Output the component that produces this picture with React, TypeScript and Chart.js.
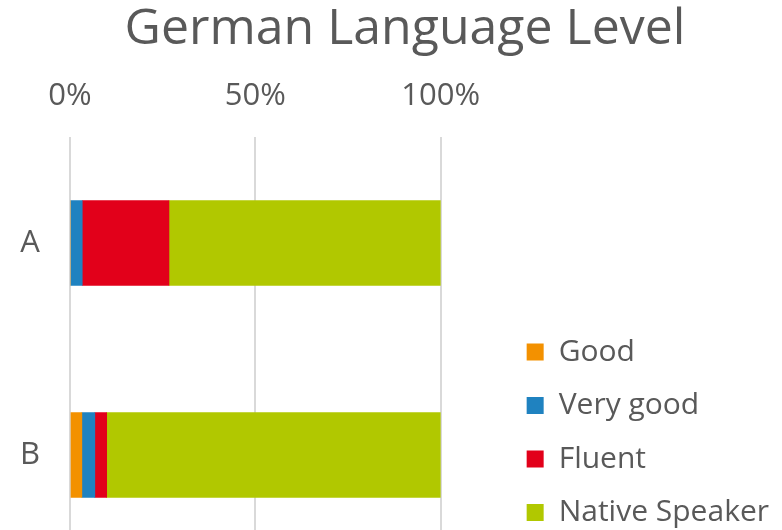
import React, { useEffect, useRef } from "react";
import { Chart, registerables } from "chart.js";

Chart.register(...registerables);

const categories = ["A", "B"];
const seriesNames = ["Good", "Very good", "Fluent", "Native Speaker"];
const good = [0, 3.2];
const veryGood = [3.3, 3.5];
const fluent = [23.4, 3.2];
const native = [73.3, 90.1];
const xTicks = [0, 50, 100];
const colors = ["#F39100", "#1F82C0", "#E2001A", "#B1C800"];

const FONT = "'Open Sans', 'Noto Sans', sans-serif";
const TEXT = "#595959";

export default function App() {
  const ref = useRef<HTMLCanvasElement | null>(null);
  useEffect(() => {
    document.body.style.margin = "0";
    document.body.style.overflow = "hidden";
    const seriesValues = [good, veryGood, fluent, native];
    const datasets = seriesNames.map((name, si) => ({
      label: name,
      data: seriesValues[si],
      backgroundColor: colors[si],
      borderWidth: 0,
      barThickness: 85,
    }));
    const chart = new Chart(ref.current as HTMLCanvasElement, {
      type: "bar",
      data: { labels: categories, datasets },
      options: {
        animation: false,
        responsive: true,
        maintainAspectRatio: false,
        indexAxis: "y",
        layout: { padding: { left: 31, right: 3, top: 0, bottom: 0 } },
        plugins: {
          title: {
            display: true,
            text: "German Language Level",
            color: TEXT,
            font: { family: FONT, size: 50, weight: "normal", lineHeight: 1.2 },
            padding: { top: 0, bottom: 0 },
          },
          legend: {
            position: "right",
            align: "start",
            maxWidth: 500,
            title: {
              display: true,
              text: " ",
              font: { size: 10, lineHeight: 1.2 },
              padding: { top: 301.5, bottom: 0 },
            },
            labels: {
              boxWidth: 17,
              boxHeight: 17,
              padding: 23.5,
              color: TEXT,
              font: { family: FONT, size: 30 },
            },
          },
          tooltip: { enabled: false },
        },
        scales: {
          x: {
            type: "linear",
            position: "top",
            stacked: true,
            min: 0,
            max: 100,
            afterBuildTicks: (s: any) => {
              s.ticks = xTicks.map((v) => ({ value: v }));
            },
            afterFit: (s: any) => {
              s.height = 77;
            },
            ticks: {
              color: TEXT,
              font: { family: FONT, size: 31 },
              padding: 22.4,
              callback: (v: any) => v + "%",
            },
            grid: { color: "#d9d9d9", lineWidth: 2, drawTicks: false },
            border: { display: false },
          },
          y: {
            type: "category",
            position: "left",
            stacked: true,
            offset: true,
            afterFit: (s: any) => {
              s.width = 39;
            },
            ticks: {
              color: TEXT,
              font: { family: FONT, size: 31 },
              mirror: true,
              crossAlign: "center",
              padding: -50,
            },
            grid: { display: false, drawTicks: false },
            border: { display: false },
          },
          y2: {
            type: "linear",
            position: "right",
            display: true,
            afterFit: (s: any) => {
              s.width = 62.5;
            },
            ticks: { display: false },
            grid: { display: false, drawTicks: false },
            border: { display: false },
          },
        },
      } as any,
    });
    return () => chart.destroy();
  }, []);
  return (
    <div style={{ width: 782, height: 561, position: "relative" }}>
      <canvas ref={ref} />
    </div>
  );
}
